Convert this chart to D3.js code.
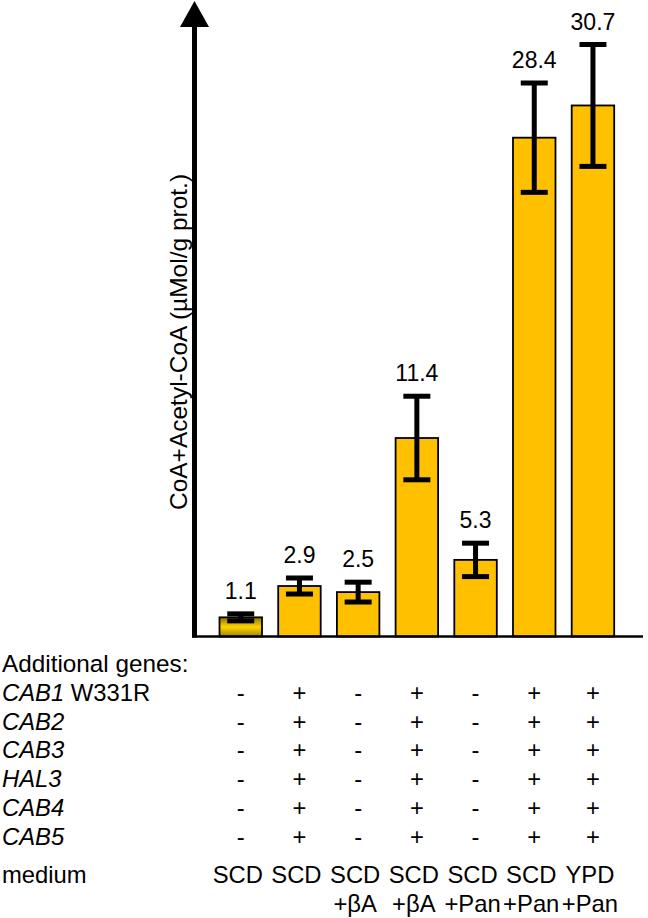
<!DOCTYPE html>
<html>
<head>
<meta charset="utf-8">
<script src="https://cdn.jsdelivr.net/npm/d3@7/dist/d3.min.js"></script>
<style>
  body { margin: 0; background: #fff; }
  text { font-family: "Liberation Sans", Arial, sans-serif; fill: #000; }
</style>
</head>
<body>
<script>
  //chart data
  var strains = ["s1", "s2", "s3", "s4", "s5", "s6", "s7"];
  var means = [1.1, 2.9, 2.55, 11.4, 4.4, 28.65, 30.5]; //bar heights
  var errors = [0.2, 0.46, 0.57, 2.4, 0.96, 3.14, 3.5]; //error bar half-lengths
  var valueLabels = ["1.1", "2.9", "2.5", "11.4", "5.3", "28.4", "30.7"];

  var geneNames = [["CAB1", " W331R"], ["CAB2", ""], ["CAB3", ""], ["HAL3", ""], ["CAB4", ""], ["CAB5", ""]];
  var geneSigns = [
    ["-", "+", "-", "+", "-", "+", "+"],
    ["-", "+", "-", "+", "-", "+", "+"],
    ["-", "+", "-", "+", "-", "+", "+"],
    ["-", "+", "-", "+", "-", "+", "+"],
    ["-", "+", "-", "+", "-", "+", "+"],
    ["-", "+", "-", "+", "-", "+", "+"]
  ];
  var mediumTop = ["SCD", "SCD", "SCD", "SCD", "SCD", "SCD", "YPD"];
  var mediumBottom = ["", "", "+\u03b2A", "+\u03b2A", "+Pan", "+Pan", "+Pan"];

  var yLabel = "CoA+Acetyl-CoA (\u00b5Mol/g prot.)";

  window.onload = drawChart();

  function drawChart(){

    //frame
    var width = 648;
    var height = 918;

    var svg = d3.select("body")
                .append("svg")
                .attr("width", width)
                .attr("height", height);

    //scales
    var x = d3.scaleBand()
              .domain(strains)
              .range([203.3, 630.4])
              .paddingInner(0.276)
              .paddingOuter(0.276);

    var y = d3.scaleLinear()
              .domain([0, 36.5])
              .range([636.5, 1]);

    //gradient for the first (shaded) bar
    var grad = svg.append("defs")
                  .append("linearGradient")
                  .attr("id", "shade")
                  .attr("x1", 0).attr("y1", 0)
                  .attr("x2", 0).attr("y2", 1);
    grad.append("stop").attr("offset", "0%").attr("stop-color", "#8c7200");
    grad.append("stop").attr("offset", "50%").attr("stop-color", "#ffd400");
    grad.append("stop").attr("offset", "100%").attr("stop-color", "#a08300");

    //bars
    svg.selectAll(".bar")
       .data(strains)
       .enter().append("rect")
         .attr("class", "bar")
         .attr("x", function(d) { return x(d); })
         .attr("width", x.bandwidth())
         .attr("y", function(d, i) { return y(means[i]); })
         .attr("height", function(d, i) { return y(0) - y(means[i]); })
         .style("fill", function(d, i) { return i == 0 ? "url(#shade)" : "#ffc000"; })
         .style("stroke", "#000")
         .style("stroke-width", 1.8);

    //error bars
    var capW = 27;
    var err = svg.selectAll(".err")
                 .data(strains)
                 .enter().append("g")
                   .attr("class", "err")
                   .style("stroke", "#000")
                   .style("stroke-width", 5);

    err.append("line")
       .attr("x1", function(d) { return x(d) + x.bandwidth() / 2; })
       .attr("x2", function(d) { return x(d) + x.bandwidth() / 2; })
       .attr("y1", function(d, i) { return y(means[i] + errors[i]); })
       .attr("y2", function(d, i) { return y(means[i] - errors[i]); });

    err.append("line")
       .attr("x1", function(d) { return x(d) + x.bandwidth() / 2 - capW / 2; })
       .attr("x2", function(d) { return x(d) + x.bandwidth() / 2 + capW / 2; })
       .attr("y1", function(d, i) { return y(means[i] + errors[i]); })
       .attr("y2", function(d, i) { return y(means[i] + errors[i]); });

    err.append("line")
       .attr("x1", function(d) { return x(d) + x.bandwidth() / 2 - capW / 2; })
       .attr("x2", function(d) { return x(d) + x.bandwidth() / 2 + capW / 2; })
       .attr("y1", function(d, i) { return y(means[i] - errors[i]); })
       .attr("y2", function(d, i) { return y(means[i] - errors[i]); });

    //value labels above the error bars
    svg.selectAll(".val")
       .data(strains)
       .enter().append("text")
         .attr("class", "val")
         .attr("x", function(d) { return x(d) + x.bandwidth() / 2; })
         .attr("y", function(d, i) { return y(means[i] + errors[i]) - 15; })
         .attr("text-anchor", "middle")
         .style("font-size", "23px")
         .text(function(d, i) { return valueLabels[i]; });

    //x axis line
    svg.append("line")
       .attr("x1", 192)
       .attr("x2", 643)
       .attr("y1", y(0))
       .attr("y2", y(0))
       .style("stroke", "#000")
       .style("stroke-width", 2.5);

    //y axis with arrow head
    svg.append("line")
       .attr("x1", 194.5)
       .attr("x2", 194.5)
       .attr("y1", y(0) + 1)
       .attr("y2", 26)
       .style("stroke", "#000")
       .style("stroke-width", 5);

    svg.append("path")
       .attr("d", "M194.5,1 L209,27 L180,27 Z")
       .style("fill", "#000");

    //y axis title
    svg.append("text")
       .attr("transform", "translate(187,342) rotate(-90)")
       .attr("text-anchor", "middle")
       .style("font-size", "24.5px")
       .text(yLabel);

    //table under the chart
    var rowY0 = 671.7;
    var rowStep = 28.9;
    var tableFont = "23.8px";

    svg.append("text")
       .attr("x", 2)
       .attr("y", rowY0)
       .style("font-size", "24.3px")
       .text("Additional genes:");

    var rows = svg.selectAll(".generow")
                  .data(geneNames)
                  .enter().append("g")
                    .attr("class", "generow")
                    .attr("transform", function(d, i) { return "translate(0," + (rowY0 + (i + 1) * rowStep) + ")"; });

    var names = rows.append("text")
                    .attr("x", 2)
                    .style("font-size", tableFont);
    names.append("tspan")
         .style("font-style", "italic")
         .text(function(d) { return d[0]; });
    names.append("tspan")
         .text(function(d) { return d[1]; });

    rows.selectAll(".sign")
        .data(function(d, i) { return geneSigns[i]; })
        .enter().append("text")
          .attr("class", "sign")
          .attr("x", function(d, j) { return x(strains[j]) + x.bandwidth() / 2; })
          .attr("text-anchor", "middle")
          .style("font-size", tableFont)
          .text(function(d) { return d; });

    //medium rows
    var medY = 883.3;
    svg.append("text")
       .attr("x", 2)
       .attr("y", medY)
       .style("font-size", tableFont)
       .text("medium");

    svg.selectAll(".med1")
       .data(mediumTop)
       .enter().append("text")
         .attr("class", "med1")
         .attr("x", function(d, j) { return x(strains[j]) + x.bandwidth() / 2 - 3; })
         .attr("y", medY)
         .attr("text-anchor", "middle")
         .style("font-size", tableFont)
         .text(function(d) { return d; });

    svg.selectAll(".med2")
       .data(mediumBottom)
       .enter().append("text")
         .attr("class", "med2")
         .attr("x", function(d, j) { return x(strains[j]) + x.bandwidth() / 2 - 3; })
         .attr("y", medY + 28.4)
         .attr("text-anchor", "middle")
         .style("font-size", tableFont)
         .text(function(d) { return d; });
  };
</script>
</body>
</html>
